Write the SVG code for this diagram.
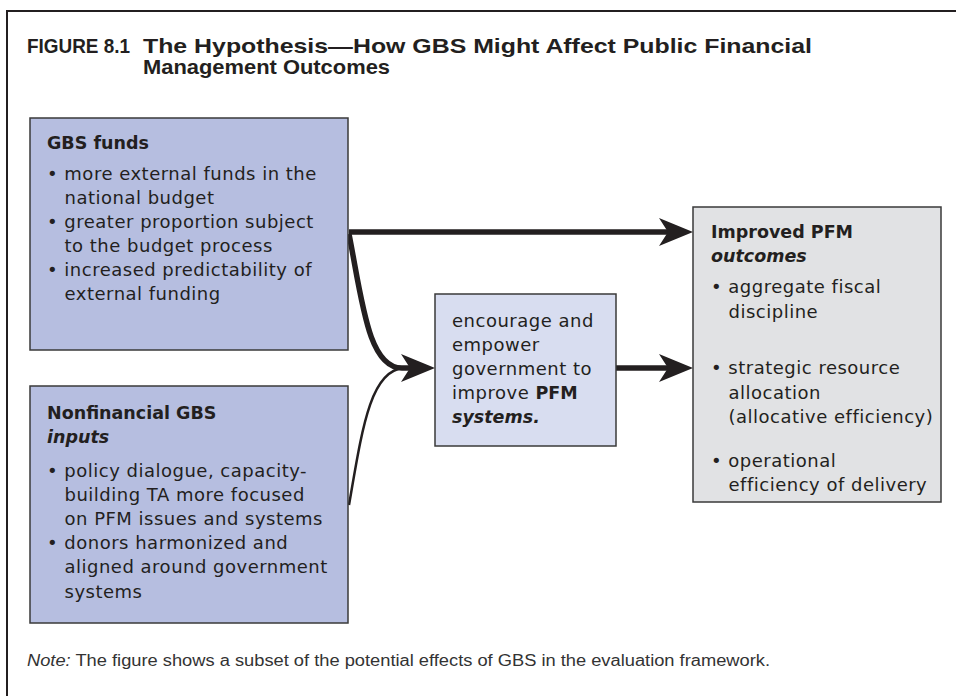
<svg xmlns="http://www.w3.org/2000/svg" width="956" height="696" viewBox="0 0 956 696">
<style>
.t{font-family:"DejaVu Sans","Liberation Sans",sans-serif;font-size:18px;letter-spacing:0.5px;fill:#231f20}
.b{font-weight:bold;font-size:17.5px;letter-spacing:0}
.i{font-style:italic}
.box{stroke:#3a3a3a;stroke-width:1.5}
.blue{fill:#b6bee0}
.light{fill:#d8ddf0}
.gray{fill:#e1e2e4}
.title{font-family:"Liberation Sans",Arial,sans-serif;font-weight:bold;font-size:21px;fill:#231f20}
.note{font-family:"Liberation Sans",Arial,sans-serif;font-size:16px;fill:#333}
.thick{fill:none;stroke:#231f20;stroke-width:5.5}
.thin{fill:none;stroke:#231f20;stroke-width:2.5}
</style>
<defs>
<marker id="ah" markerUnits="userSpaceOnUse" markerWidth="36" markerHeight="30" refX="9" refY="14" orient="auto">
<path d="M0,0 L34,14 L0,28 L9,14 Z" fill="#231f20"/>
</marker>
</defs>
<rect width="956" height="696" fill="#fff"/>
<path d="M7,696 V11 H956" fill="none" stroke="#231f20" stroke-width="2"/>
<text class="title" x="27" y="53" textLength="103" lengthAdjust="spacingAndGlyphs">FIGURE 8.1</text>
<text class="title" x="143" y="53" textLength="669" lengthAdjust="spacingAndGlyphs">The Hypothesis—How GBS Might Affect Public Financial</text>
<text class="title" x="143" y="74" textLength="247" lengthAdjust="spacingAndGlyphs">Management Outcomes</text>

<g id="connectors">
<path class="thick" d="M349,232 H668" marker-end="url(#ah)"/>
<path class="thick" d="M616,368 H668" marker-end="url(#ah)"/>
<path class="thick" d="M349,234 C362,300 368,368 402,368 H410" marker-end="url(#ah)"/>
<path class="thin" d="M349,505 C362,430 370,370 404,368"/>
</g>

<g id="gbs-funds">
<rect class="box blue" x="30" y="118" width="318" height="232"/>
<text class="t b" x="47" y="149">GBS funds</text>
<text class="t" x="47" y="180">• more external funds in the</text>
<text class="t" x="64.5" y="204">national budget</text>
<text class="t" x="47" y="228">• greater proportion subject</text>
<text class="t" x="64.5" y="252">to the budget process</text>
<text class="t" x="47" y="276">• increased predictability of</text>
<text class="t" x="64.5" y="300">external funding</text>
</g>

<g id="nonfinancial">
<rect class="box blue" x="30" y="386" width="318" height="237"/>
<text class="t b" x="47" y="418.5">Nonfinancial GBS</text>
<text class="t b i" x="47" y="442.5">inputs</text>
<text class="t" x="47" y="476.5">• policy dialogue, capacity-</text>
<text class="t" x="64.5" y="500.5">building TA more focused</text>
<text class="t" x="64.5" y="524.5">on PFM issues and systems</text>
<text class="t" x="47" y="549">• donors harmonized and</text>
<text class="t" x="64.5" y="573">aligned around government</text>
<text class="t" x="64.5" y="597.5">systems</text>
</g>

<g id="encourage">
<rect class="box light" x="435" y="294" width="181" height="152"/>
<text class="t" x="452" y="327">encourage and</text>
<text class="t" x="452" y="351">empower</text>
<text class="t" x="452" y="375">government to</text>
<text class="t" x="452" y="399">improve <tspan class="b">PFM</tspan></text>
<text class="t b i" x="452" y="423">systems.</text>
</g>

<g id="outcomes">
<rect class="box gray" x="693" y="207" width="248" height="295"/>
<text class="t b" x="711" y="238">Improved PFM</text>
<text class="t b i" x="711" y="262">outcomes</text>
<text class="t" x="711" y="293">• aggregate fiscal</text>
<text class="t" x="728.5" y="317.5">discipline</text>
<text class="t" x="711" y="374">• strategic resource</text>
<text class="t" x="728.5" y="398.5">allocation</text>
<text class="t" x="728.5" y="422.5">(allocative efficiency)</text>
<text class="t" x="711" y="467">• operational</text>
<text class="t" x="728.5" y="491">efficiency of delivery</text>
</g>

<text class="note" x="27" y="666" textLength="743" lengthAdjust="spacingAndGlyphs"><tspan class="i">Note:</tspan> The figure shows a subset of the potential effects of GBS in the evaluation framework.</text>
</svg>
